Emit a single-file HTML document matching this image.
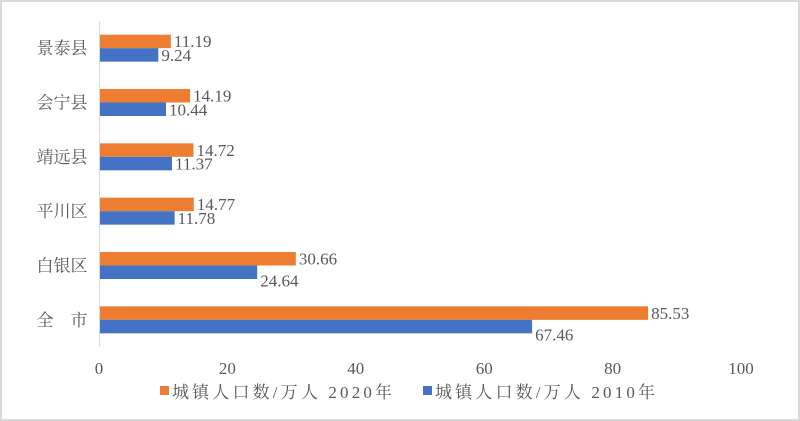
<!DOCTYPE html>
<html><head><meta charset="utf-8"><style>
body{margin:0;background:#fff}
svg{display:block}
text{font-family:"Liberation Serif","Noto Serif CJK SC",serif;fill:#595959}
</style></head><body>
<svg width="800" height="421">
<rect x="1" y="1" width="798" height="419" fill="#fff" stroke="#d9d9d9" stroke-width="2"/>
<g id="plot"></g>
<g>
<rect x="160" y="386" width="9" height="9" fill="#ED7D31"/>
<text x="172" y="398" font-size="17" textLength="220" lengthAdjust="spacing">城镇人口数/万人  2020年</text>
<rect x="423" y="386" width="9" height="9" fill="#4472C4"/>
<text x="435" y="398" font-size="17" textLength="220" lengthAdjust="spacing">城镇人口数/万人  2010年</text>
</g>
</svg>
<script>
const categories=["景泰县","会宁县","靖远县","平川区","白银区","全　市"];
const values2020=[11.19,14.19,14.72,14.77,30.66,85.53];
const values2010=[9.24,10.44,11.37,11.78,24.64,67.46];
const ticks=[0,20,40,60,80,100];
const x0=99,x1=741,yTop=21,yBottom=347;
const xs=v=>x0+(v-0)/(100-0)*(x1-x0);
const band=(yBottom-yTop)/categories.length;
const yc=i=>yTop+band*(i+0.5);
const g=document.getElementById('plot');
const NS="http://www.w3.org/2000/svg";
function mk(t,a){const e=document.createElementNS(NS,t);for(const k in a)e.setAttribute(k,a[k]);g.appendChild(e);return e;}
const bh=13.5;
categories.forEach((c,i)=>{
 const y=yc(i);
 const lb=mk('text',{x:62,y:y+6,'font-size':17,'text-anchor':'middle'});lb.textContent=c;
 
 
 const r1=mk('rect',{x:xs(0),y:y-bh,width:xs(values2020[i])-xs(0),height:bh,fill:'#ED7D31'});
 
 
 const r2=mk('rect',{x:xs(0),y:y,width:xs(values2010[i])-xs(0),height:bh,fill:'#4472C4'});
 
 
 const t1=mk('text',{x:xs(values2020[i])+3,y:y-1,'font-size':17,fill:'#404040'});t1.textContent=values2020[i].toFixed(2);
 
 
 const dy=values2010[i]>20?14:6;
 const t2=mk('text',{x:xs(values2010[i])+3,y:y+bh/2+dy,'font-size':17,fill:'#404040'});t2.textContent=values2010[i].toFixed(2);
 
 
});
const ax=mk('line',{x1:x0+0.5,x2:x0+0.5,y1:yTop,y2:yBottom,stroke:'#d9d9d9','stroke-width':1});


ticks.forEach(t=>{
 const e=mk('text',{x:xs(t),y:374,'font-size':17,'text-anchor':'middle'});e.textContent=t;
 
 
});
</script>
</body></html>
